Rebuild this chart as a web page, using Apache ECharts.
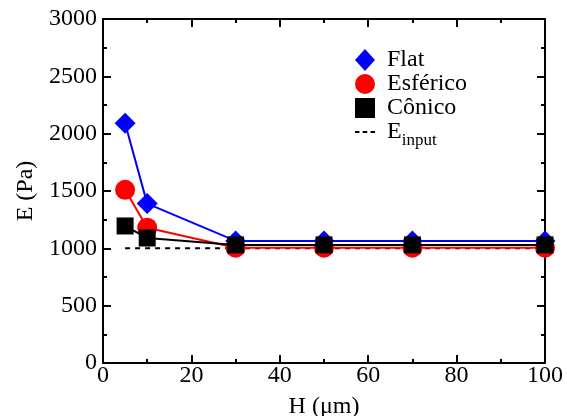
<!DOCTYPE html>
<html>
<head>
<meta charset="utf-8">
<script src="https://cdn.jsdelivr.net/npm/echarts@6/dist/echarts.min.js"></script>
<style>
  html, body { margin: 0; padding: 0; background: #fff; }
  #main { width: 567px; height: 416px; }
</style>
</head>
<body>
<div id="main"></div>
<script>
// thickness H (um)
const hValues = [5, 10, 30, 50, 70, 100];
const flat = [2090, 1390, 1065, 1065, 1065, 1065];
const esferico = [1510, 1180, 1005, 1005, 1005, 1005];
const conico = [1195, 1090, 1030, 1030, 1030, 1030];
const eInput = [1000, 1000, 1000, 1000, 1000, 1000];

const serif = 'Liberation Serif';
const chart = echarts.init(document.getElementById('main'));

function pairs(vals) {
  return hValues.map(function (h, i) { return [h, vals[i]]; });
}

function makeAxis(opts, showLabels) {
  return {
    type: 'value',
    min: opts.min, max: opts.max, interval: opts.interval,
    position: opts.position,
    name: opts.name || '',
    nameLocation: 'middle',
    nameGap: opts.nameGap || 0,
    nameTextStyle: { fontFamily: serif, fontSize: 24, color: '#000' },
    axisLine: { show: true, onZero: false, lineStyle: { color: '#000', width: 2 } },
    axisTick: { show: true, inside: true, length: 8, lineStyle: { color: '#000', width: 2 } },
    minorTick: { show: true, splitNumber: 2, length: 4, lineStyle: { color: '#000', width: 2 } },
    splitLine: { show: false },
    axisLabel: {
      show: showLabels,
      fontFamily: serif, fontSize: 24, color: '#000',
      margin: opts.margin || 4,
      formatter: function (v) { return String(v); }
    }
  };
}

const option = {
  animation: false,
  backgroundColor: '#fff',
  textStyle: { fontFamily: serif, color: '#000' },
  grid: { left: 103, top: 19, right: 22, bottom: 53, containLabel: false, outerBoundsMode: 'none' },
  legend: {
    orient: 'vertical',
    left: 355,
    top: 48,
    padding: 0,
    itemGap: 0,
    itemWidth: 20,
    itemHeight: 22,
    textStyle: {
      fontFamily: serif, fontSize: 24, color: '#000', lineHeight: 24,
      rich: {
        n: { fontFamily: serif, fontSize: 24, color: '#000', lineHeight: 24, padding: [0, 0, 0, 7] },
        e: { fontFamily: serif, fontSize: 24, color: '#000', lineHeight: 24, padding: [0, 0, 0, 7] },
        s: { fontFamily: serif, fontSize: 17, color: '#000', padding: [18, 0, 0, 0] }
      }
    },
    formatter: function (name) {
      return name === 'E_input' ? '{e|E}{s|input}' : '{n|' + name + '}';
    },
    data: [
      { name: 'Flat', icon: 'diamond' },
      { name: 'Esférico', icon: 'circle' },
      { name: 'Cônico', icon: 'path://M0,0h16v16h-16z' },
      { name: 'E_input', icon: 'path://M0,8h4v2h-4zM7,8h4v2h-4zM14,8h4v2h-4z' }
    ]
  },
  xAxis: [
    makeAxis({ min: 0, max: 100, interval: 20, position: 'bottom', name: 'H (μm)', nameGap: 32, margin: 1 }, true),
    makeAxis({ min: 0, max: 100, interval: 20, position: 'top' }, false)
  ],
  yAxis: [
    makeAxis({ min: 0, max: 3000, interval: 500, position: 'left', name: 'E (Pa)', nameGap: 63, margin: 6 }, true),
    makeAxis({ min: 0, max: 3000, interval: 500, position: 'right' }, false)
  ],
  series: [
    {
      name: 'E_input', type: 'line', data: pairs(eInput), symbol: 'none',
      lineStyle: { color: '#000', width: 2, type: [5, 5] },
      itemStyle: { color: '#000' }, z: 1
    },
    {
      name: 'Flat', type: 'line', data: pairs(flat),
      symbol: 'diamond', symbolSize: 21,
      lineStyle: { color: '#00f', width: 2 }, itemStyle: { color: '#00f' }, z: 2
    },
    {
      name: 'Esférico', type: 'line', data: pairs(esferico),
      symbol: 'circle', symbolSize: 20,
      lineStyle: { color: '#f00', width: 2 }, itemStyle: { color: '#f00' }, z: 3
    },
    {
      name: 'Cônico', type: 'line', data: pairs(conico),
      symbol: 'rect', symbolSize: 17,
      lineStyle: { color: '#000', width: 2 }, itemStyle: { color: '#000' }, z: 4
    }
  ]
};

chart.setOption(option);
</script>
</body>
</html>
